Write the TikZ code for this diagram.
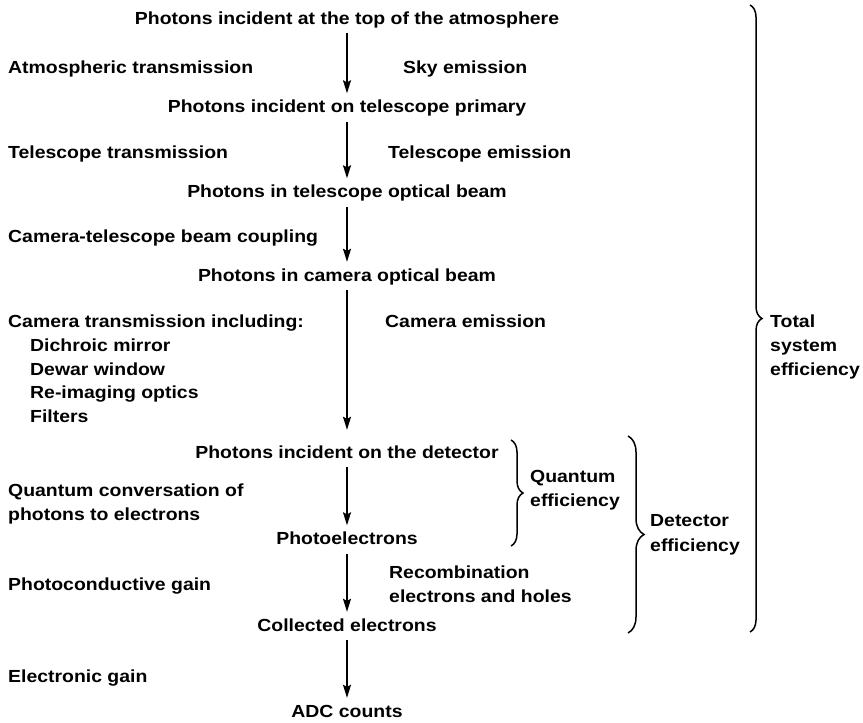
\documentclass[tikz,border=0pt]{standalone}
\usepackage{fontspec}
\setmainfont{Liberation Sans}[FakeStretch=1.11]
\usetikzlibrary{arrows.meta,decorations.pathreplacing}
\begin{document}
\begin{tikzpicture}[x=1pt,y=-1pt,
  txt/.style={font=\bfseries\fontsize{17.5}{21}\selectfont, inner sep=0pt},
  ctr/.style={txt, anchor=base, text height=13pt, text depth=4pt},
  lbl/.style={txt, anchor=base west},
  arr/.style={line width=1.3pt, -{Stealth[length=13pt,width=8pt,inset=2pt]}, shorten <=5pt, shorten >=6pt},
  brc/.style={line width=1.5pt, decorate, decoration={brace, amplitude=#1}}
]
\useasboundingbox (0,0) rectangle (863,723);

% central chain
\node[ctr] (n1) at (347,24) {Photons incident at the top of the atmosphere};
\node[ctr] (n2) at (347,112.5) {Photons incident on telescope primary};
\node[ctr] (n3) at (347,197.5) {Photons in telescope optical beam};
\node[ctr] (n4) at (347,281) {Photons in camera optical beam};
\node[ctr] (n5) at (347,458) {Photons incident on the detector};
\node[ctr] (n6) at (347,544.5) {Photoelectrons};
\node[ctr] (n7) at (347,631) {Collected electrons};
\node[ctr] (n8) at (347,717) {ADC counts};

\draw[arr] (n1) -- (n2);
\draw[arr] (n2) -- (n3);
\draw[arr] (n3) -- (n4);
\draw[arr, shorten >=15pt] (n4) -- (n5);
\draw[arr] (n5) -- (n6);
\draw[arr] (n6) -- (n7);
\draw[arr] (n7) -- (n8);

% left labels
\node[lbl] (l1) at (8,73.5) {Atmospheric transmission};
\node[lbl] (l2) at (8,158.5) {Telescope transmission};
\node[lbl] (l3) at (8,242.5) {Camera-telescope beam coupling};
\node[lbl] (l4) at (8,327.5) {Camera transmission including:};
\node[lbl] (l4a) at (30,351.5) {Dichroic mirror};
\node[lbl] (l4b) at (30,375.5) {Dewar window};
\node[lbl] (l4c) at (30,398.5) {Re-imaging optics};
\node[lbl] (l4d) at (30,422.5) {Filters};
\node[lbl] (l5) at (8,496.5) {Quantum conversation of};
\node[lbl] (l5b) at (8,520.5) {photons to electrons};
\node[lbl] (l6) at (8,590.5) {Photoconductive gain};
\node[lbl] (l7) at (8,682.5) {Electronic gain};

% right labels
\node[lbl] (r1) at (403,73.5) {Sky emission};
\node[lbl] (r2) at (388,158.5) {Telescope emission};
\node[lbl] (r3) at (385,327.5) {Camera emission};
\node[lbl] (r4) at (389,578.5) {Recombination};
\node[lbl] (r4b) at (389,602.5) {electrons and holes};

% braces
\coordinate (qa) at (511,440);
\coordinate (qb) at (511,546);
\draw[brc=12pt] (qa) -- (qb);
\node[lbl] (q1) at (530,482.5) {Quantum};
\node[lbl] (q2) at (530,506.5) {efficiency};

\coordinate (da) at (628,436);
\coordinate (db) at (628,633);
\draw[brc=16pt] (da) -- (db);
\node[lbl] (d1) at (650,526.5) {Detector};
\node[lbl] (d2) at (650,551.5) {efficiency};

\coordinate (ta) at (750,5);
\coordinate (tb) at (750,632);
\draw[brc=12pt] (ta) -- (tb);
\node[lbl] (t1) at (770,327.5) {Total};
\node[lbl] (t2) at (770,351.5) {system};
\node[lbl] (t3) at (770,375.5) {efficiency};
\end{tikzpicture}
\end{document}
